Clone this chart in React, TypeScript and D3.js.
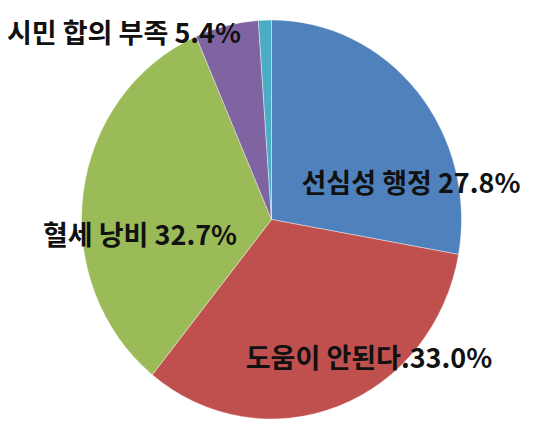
import React from "react";
import * as d3 from "d3";

const W = 539;
const H = 431;

// Survey responses, clockwise from 12 o'clock
const categories = ["선심성 행정", "도움이 안된다", "혈세 낭비", "시민 합의 부족", "기타"];
const values = [27.8, 33.0, 32.7, 5.4, 1.1];
const labelTexts = ["선심성 행정 27.8%", "도움이 안된다.33.0%", "혈세 낭비 32.7%", "시민 합의 부족 5.4%", ""];
const colors = ["#4F81BD", "#C0504D", "#9BBB59", "#8064A2", "#4BACC6"];

// label anchor offsets from the pie centre (px)
const labelOffsets: [number, number][] = [
  [139.5, -38],
  [97.5, 137],
  [-131.5, 13.5],
  [-147.5, -188],
  [0, 0],
];

export default function App() {
  const cx = 271.5;
  const cy = 219.5;
  const ry = 199.5;
  const rx = 190;

  const pie = d3.pie<number>().sort(null).value((d) => d)(values);
  const arc = d3.arc<d3.PieArcDatum<number>>().innerRadius(0).outerRadius(ry);

  return (
    <svg
      width={W}
      height={H}
      style={{ position: "fixed", left: 0, top: 0, background: "#fff" }}
    >
      <rect width={W} height={H} fill="#fff" />
      <g transform={`translate(${cx},${cy}) scale(${rx / ry},1)`}>
        {pie.map((p, i) => (
          <path
            key={categories[i]}
            d={arc(p) || ""}
            fill={colors[i]}
            stroke="#fff"
            strokeOpacity={0.5}
            strokeWidth={0.8}
            vectorEffect="non-scaling-stroke"
          />
        ))}
      </g>
      <g
        fontFamily="'Noto Sans CJK KR', 'Noto Sans', sans-serif"
        fontWeight={700}
        fontSize={27}
        fill="#111"
        textAnchor="middle"
      >
        {labelTexts.map((t, i) =>
          t ? (
            <text
              key={i}
              x={cx + labelOffsets[i][0]}
              y={cy + labelOffsets[i][1]}
              dominantBaseline="central"
            >
              {t}
            </text>
          ) : null
        )}
      </g>
    </svg>
  );
}
